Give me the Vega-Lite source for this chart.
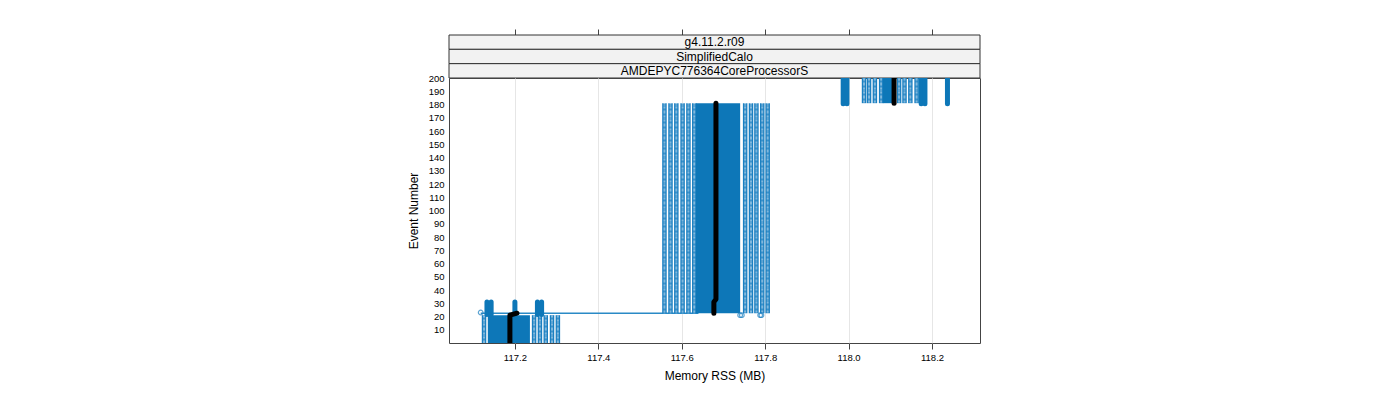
{
  "$schema": "https://vega.github.io/schema/vega-lite/v6.json",
  "padding": {"left": 406, "top": 28, "right": 5, "bottom": 5},
  "spacing": 0,
  "bounds": "flush",
  "config": {
    "font": "Liberation Sans",
    "view": {"stroke": "#444", "strokeWidth": 1},
    "axis": {"labelFont": "Liberation Sans", "titleFont": "Liberation Sans", "labelColor": "#000", "titleColor": "#000", "titleFontWeight": "normal"}
  },
  "datasets": {
    "strips": [
      {"order": 1, "label": "g4.11.2.r09"},
      {"order": 2, "label": "SimplifiedCalo"},
      {"order": 3, "label": "AMDEPYC776364CoreProcessorS"}
    ],
    "dense": [
      {"x1": 117.135, "x2": 117.236, "e1": 0, "e2": 21},
      {"x1": 117.634, "x2": 117.740, "e1": 22.5, "e2": 181},
      {"x1": 118.082, "x2": 118.104, "e1": 181, "e2": 200}
    ],
    "stripes": [
      {"x": 117.126, "e1": 0, "e2": 21},
      {"x": 117.246, "e1": 0, "e2": 21},
      {"x": 117.260, "e1": 0, "e2": 21},
      {"x": 117.274, "e1": 0, "e2": 21},
      {"x": 117.289, "e1": 0, "e2": 21},
      {"x": 117.303, "e1": 0, "e2": 21},
      {"x": 117.5585, "e1": 22.5, "e2": 181},
      {"x": 117.573, "e1": 22.5, "e2": 181},
      {"x": 117.587, "e1": 22.5, "e2": 181},
      {"x": 117.602, "e1": 22.5, "e2": 181},
      {"x": 117.616, "e1": 22.5, "e2": 181},
      {"x": 117.630, "e1": 22.5, "e2": 181},
      {"x": 117.752, "e1": 22.5, "e2": 181},
      {"x": 117.766, "e1": 22.5, "e2": 181},
      {"x": 117.779, "e1": 22.5, "e2": 181},
      {"x": 117.793, "e1": 22.5, "e2": 181},
      {"x": 117.806, "e1": 22.5, "e2": 181},
      {"x": 118.037, "e1": 181, "e2": 200},
      {"x": 118.049, "e1": 181, "e2": 200},
      {"x": 118.063, "e1": 181, "e2": 200},
      {"x": 118.078, "e1": 181, "e2": 200},
      {"x": 118.121, "e1": 181, "e2": 200},
      {"x": 118.134, "e1": 181, "e2": 200},
      {"x": 118.148, "e1": 181, "e2": 200},
      {"x": 118.163, "e1": 181, "e2": 200}
    ],
    "clusters": [
      {"x": 117.133, "e1": 21.5, "e2": 31},
      {"x": 117.143, "e1": 21.5, "e2": 31},
      {"x": 117.200, "e1": 21.5, "e2": 31},
      {"x": 117.254, "e1": 21.5, "e2": 31},
      {"x": 117.264, "e1": 21.5, "e2": 31},
      {"x": 117.987, "e1": 180.5, "e2": 201},
      {"x": 117.996, "e1": 180.5, "e2": 201},
      {"x": 118.174, "e1": 180.5, "e2": 201},
      {"x": 118.183, "e1": 180.5, "e2": 201},
      {"x": 118.237, "e1": 180.5, "e2": 201}
    ],
    "singles": [
      {"x": 117.118, "e": 23},
      {"x": 117.740, "e": 21},
      {"x": 117.744, "e": 21},
      {"x": 117.788, "e": 21},
      {"x": 117.791, "e": 21}
    ],
    "hline": [
      {"x1": 117.118, "x2": 117.64, "e": 22.4}
    ],
    "median": [
      {"seg": 1, "x": 117.188, "e": -1},
      {"seg": 1, "x": 117.188, "e": 21},
      {"seg": 1, "x": 117.205, "e": 22.5},
      {"seg": 2, "x": 117.677, "e": 22.5},
      {"seg": 2, "x": 117.677, "e": 31},
      {"seg": 2, "x": 117.682, "e": 33},
      {"seg": 2, "x": 117.682, "e": 181},
      {"seg": 3, "x": 118.109, "e": 181},
      {"seg": 3, "x": 118.109, "e": 202}
    ]
  },
  "vconcat": [
    {
      "width": 531,
      "height": 43,
      "data": {"name": "strips"},
      "view": {"stroke": null},
      "encoding": {
        "y": {"field": "label", "type": "ordinal", "sort": {"field": "order"}, "scale": {"paddingInner": 0, "paddingOuter": 0}, "axis": null}
      },
      "layer": [
        {
          "mark": {"type": "rect", "fill": "#f2f2f2", "stroke": "#333", "strokeWidth": 1},
          "encoding": {
            "x": {"datum": 117.042, "type": "quantitative", "scale": {"domain": [117.042, 118.315], "nice": false, "zero": false},
              "axis": {"orient": "top", "values": [117.2, 117.4, 117.6, 117.8, 118.0, 118.2], "labels": false, "tickSize": 6, "tickColor": "#444", "domain": false, "grid": false, "title": null}},
            "x2": {"datum": 118.315}
          }
        },
        {
          "mark": {"type": "text", "fontSize": 12, "color": "#000"},
          "encoding": {
            "x": {"datum": 117.6785, "type": "quantitative"},
            "text": {"field": "label"}
          }
        }
      ]
    },
    {
      "width": 531,
      "height": 265,
      "encoding": {
        "x": {"type": "quantitative", "scale": {"domain": [117.042, 118.315], "nice": false, "zero": false},
          "axis": {"values": [117.2, 117.4, 117.6, 117.8, 118.0, 118.2], "format": ".1f", "tickSize": 6, "tickColor": "#444", "labelFontSize": 9.5, "labelPadding": 3, "title": "Memory RSS (MB)", "titleFontSize": 12, "titlePadding": 9, "grid": true, "gridColor": "#e6e6e6", "domain": false}},
        "y": {"type": "quantitative", "scale": {"domain": [0, 200], "nice": false, "zero": false},
          "axis": {"values": [10, 20, 30, 40, 50, 60, 70, 80, 90, 100, 110, 120, 130, 140, 150, 160, 170, 180, 190, 200], "tickSize": 0, "labelFontSize": 9.5, "labelPadding": 5, "labelOverlap": false, "title": "Event Number", "titleFontSize": 12, "titlePadding": 8, "grid": false, "domain": false}}
      },
      "layer": [
        {
          "data": {"name": "hline"},
          "mark": {"type": "rule", "stroke": "#2a8ac6", "strokeWidth": 1.5, "clip": true},
          "encoding": {
            "x": {"field": "x1", "type": "quantitative"},
            "x2": {"field": "x2"},
            "y": {"field": "e", "type": "quantitative"}
          }
        },
        {
          "data": {"name": "stripes"},
          "mark": {"type": "rule", "stroke": "#1a7fc1", "strokeWidth": 4.5, "clip": true},
          "encoding": {
            "x": {"field": "x", "type": "quantitative"},
            "y": {"field": "e1", "type": "quantitative"},
            "y2": {"field": "e2"}
          }
        },
        {
          "data": {"name": "stripes"},
          "mark": {"type": "rule", "stroke": "#ffffff", "strokeWidth": 2, "opacity": 0.6, "strokeDash": [0.7, 0.6], "clip": true},
          "encoding": {
            "x": {"field": "x", "type": "quantitative"},
            "y": {"field": "e1", "type": "quantitative"},
            "y2": {"field": "e2"}
          }
        },
        {
          "data": {"name": "dense"},
          "mark": {"type": "rect", "fill": "#0d77b8", "clip": true},
          "encoding": {
            "x": {"field": "x1", "type": "quantitative"},
            "x2": {"field": "x2"},
            "y": {"field": "e1", "type": "quantitative"},
            "y2": {"field": "e2"}
          }
        },
        {
          "data": {"name": "clusters"},
          "mark": {"type": "rule", "stroke": "#0d77b8", "strokeWidth": 5, "strokeCap": "round", "clip": true},
          "encoding": {
            "x": {"field": "x", "type": "quantitative"},
            "y": {"field": "e1", "type": "quantitative"},
            "y2": {"field": "e2"}
          }
        },
        {
          "data": {"name": "singles"},
          "mark": {"type": "point", "shape": "circle", "filled": false, "stroke": "#1a7fc1", "strokeWidth": 1.2, "size": 22, "clip": true},
          "encoding": {
            "x": {"field": "x", "type": "quantitative"},
            "y": {"field": "e", "type": "quantitative"}
          }
        },
        {
          "data": {"name": "median"},
          "mark": {"type": "line", "stroke": "#000", "strokeWidth": 5, "strokeCap": "round", "strokeJoin": "round", "clip": true},
          "encoding": {
            "x": {"field": "x", "type": "quantitative"},
            "y": {"field": "e", "type": "quantitative"},
            "detail": {"field": "seg"},
            "order": {"field": "e"}
          }
        }
      ]
    }
  ]
}
